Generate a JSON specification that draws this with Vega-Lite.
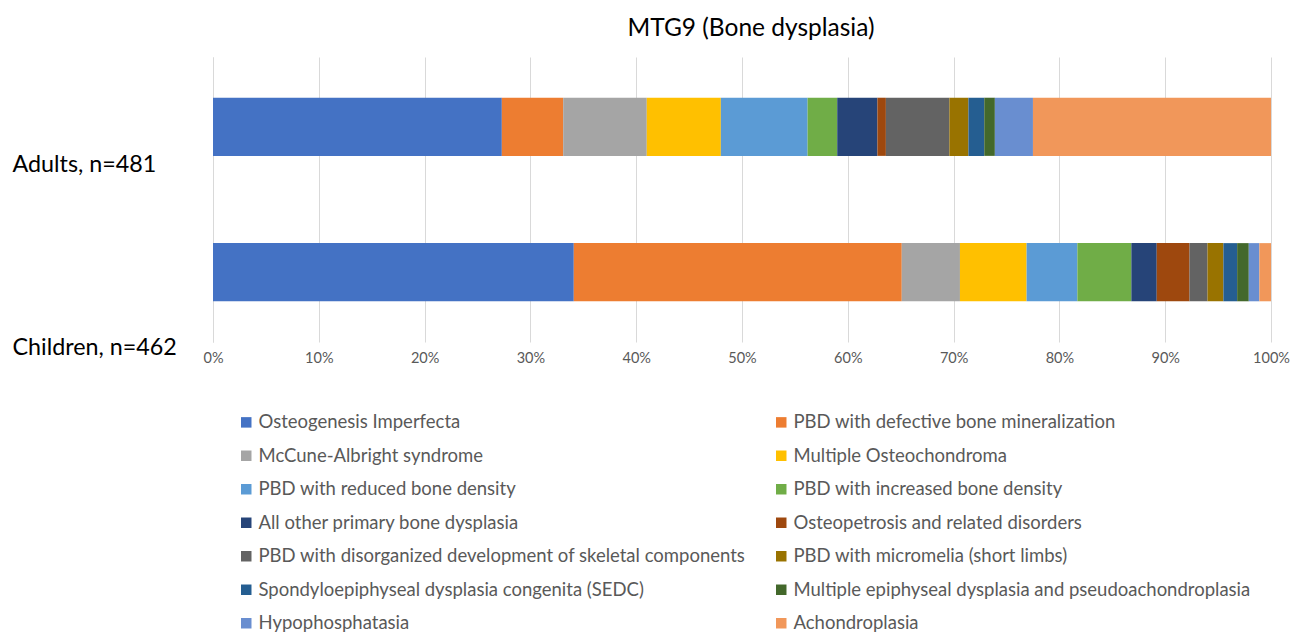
{
  "$schema": "https://vega.github.io/schema/vega-lite/v6.json",
  "autosize": "none",
  "width": 1058,
  "height": 285,
  "padding": {"left": 213, "top": 57, "right": 19, "bottom": 293},
  "background": "white",
  "title": {
    "text": "MTG9 (Bone dysplasia)",
    "font": "Lato",
    "fontSize": 24.5,
    "fontWeight": "normal",
    "color": "#000000",
    "anchor": "middle",
    "dx": 9,
    "offset": 16
  },
  "data": {
    "values": [
      {"group": "Adults, n=481", "idx": 1, "category": "Osteogenesis Imperfecta", "pct": 27.3},
      {"group": "Adults, n=481", "idx": 2, "category": "PBD with defective bone mineralization", "pct": 5.8},
      {"group": "Adults, n=481", "idx": 3, "category": "McCune-Albright syndrome", "pct": 7.9},
      {"group": "Adults, n=481", "idx": 4, "category": "Multiple Osteochondroma", "pct": 7.0},
      {"group": "Adults, n=481", "idx": 5, "category": "PBD with reduced bone density", "pct": 8.2},
      {"group": "Adults, n=481", "idx": 6, "category": "PBD with increased bone density", "pct": 2.8},
      {"group": "Adults, n=481", "idx": 7, "category": "All other primary bone dysplasia", "pct": 3.8},
      {"group": "Adults, n=481", "idx": 8, "category": "Osteopetrosis and related disorders", "pct": 0.8},
      {"group": "Adults, n=481", "idx": 9, "category": "PBD with disorganized development of skeletal components", "pct": 6.0},
      {"group": "Adults, n=481", "idx": 10, "category": "PBD with micromelia (short limbs)", "pct": 1.8},
      {"group": "Adults, n=481", "idx": 11, "category": "Spondyloepiphyseal dysplasia congenita (SEDC)", "pct": 1.5},
      {"group": "Adults, n=481", "idx": 12, "category": "Multiple epiphyseal dysplasia and pseudoachondroplasia", "pct": 1.0},
      {"group": "Adults, n=481", "idx": 13, "category": "Hypophosphatasia", "pct": 3.6},
      {"group": "Adults, n=481", "idx": 14, "category": "Achondroplasia", "pct": 22.5},
      {"group": "Children, n=462", "idx": 1, "category": "Osteogenesis Imperfecta", "pct": 34.1},
      {"group": "Children, n=462", "idx": 2, "category": "PBD with defective bone mineralization", "pct": 31.0},
      {"group": "Children, n=462", "idx": 3, "category": "McCune-Albright syndrome", "pct": 5.5},
      {"group": "Children, n=462", "idx": 4, "category": "Multiple Osteochondroma", "pct": 6.3},
      {"group": "Children, n=462", "idx": 5, "category": "PBD with reduced bone density", "pct": 4.8},
      {"group": "Children, n=462", "idx": 6, "category": "PBD with increased bone density", "pct": 5.1},
      {"group": "Children, n=462", "idx": 7, "category": "All other primary bone dysplasia", "pct": 2.4},
      {"group": "Children, n=462", "idx": 8, "category": "Osteopetrosis and related disorders", "pct": 3.1},
      {"group": "Children, n=462", "idx": 9, "category": "PBD with disorganized development of skeletal components", "pct": 1.7},
      {"group": "Children, n=462", "idx": 10, "category": "PBD with micromelia (short limbs)", "pct": 1.5},
      {"group": "Children, n=462", "idx": 11, "category": "Spondyloepiphyseal dysplasia congenita (SEDC)", "pct": 1.3},
      {"group": "Children, n=462", "idx": 12, "category": "Multiple epiphyseal dysplasia and pseudoachondroplasia", "pct": 1.1},
      {"group": "Children, n=462", "idx": 13, "category": "Hypophosphatasia", "pct": 1.0},
      {"group": "Children, n=462", "idx": 14, "category": "Achondroplasia", "pct": 1.1}
    ]
  },
  "mark": {"type": "bar"},
  "encoding": {
    "y": {
      "field": "group",
      "type": "nominal",
      "sort": ["Adults, n=481", "Children, n=462"],
      "scale": {"paddingInner": 0.6, "paddingOuter": 0.28},
      "axis": {
        "title": null,
        "ticks": false,
        "tickSize": 0,
        "domain": true,
        "domainColor": "#d9d9d9",
        "labelFont": "Lato",
        "labelFontSize": 23.3,
        "labelColor": "#000000",
        "labelAlign": "left",
        "labelBaseline": "middle",
        "labelPadding": 201,
        "labelLimit": 300,
        "labelOffset": {"condition": {"test": "datum.value == 'Adults, n=481'", "value": 38}, "value": 76}
      }
    },
    "x": {
      "field": "pct",
      "type": "quantitative",
      "stack": "normalize",
      "scale": {"domain": [0, 1]},
      "axis": {
        "title": null,
        "format": ".0%",
        "values": [0, 0.1, 0.2, 0.3, 0.4, 0.5, 0.6, 0.7, 0.8, 0.9, 1.0],
        "grid": true,
        "gridColor": "#d9d9d9",
        "domain": false,
        "ticks": false,
        "labelFont": "Lato",
        "labelFontSize": 14.5,
        "labelColor": "#595959",
        "labelPadding": 9,
        "labelFlush": false
      }
    },
    "order": {"field": "idx", "type": "quantitative", "sort": "ascending"},
    "color": {
      "field": "category",
      "type": "nominal",
      "scale": {
        "domain": [
          "Osteogenesis Imperfecta",
          "McCune-Albright syndrome",
          "PBD with reduced bone density",
          "All other primary bone dysplasia",
          "PBD with disorganized development of skeletal components",
          "Spondyloepiphyseal dysplasia congenita (SEDC)",
          "Hypophosphatasia",
          "PBD with defective bone mineralization",
          "Multiple Osteochondroma",
          "PBD with increased bone density",
          "Osteopetrosis and related disorders",
          "PBD with micromelia (short limbs)",
          "Multiple epiphyseal dysplasia and pseudoachondroplasia",
          "Achondroplasia"
        ],
        "range": ["#4472C4", "#A5A5A5", "#5B9BD5", "#264478", "#636363", "#255E91", "#698ED0", "#ED7D31", "#FFC000", "#70AD47", "#9E480E", "#997300", "#43682B", "#F1975A"]
      },
      "legend": {
        "title": null,
        "orient": "none",
        "legendX": 24,
        "legendY": 356,
        "columns": 2,
        "columnPadding": 26,
        "rowPadding": 14.5,
        "symbolType": "square",
        "symbolSize": 110,
        "symbolStrokeWidth": 0,
        "labelFont": "Lato",
        "labelFontSize": 18.5,
        "labelColor": "#595959",
        "labelOffset": 3,
        "labelLimit": 600
      }
    }
  },
  "config": {"view": {"stroke": null}}
}
